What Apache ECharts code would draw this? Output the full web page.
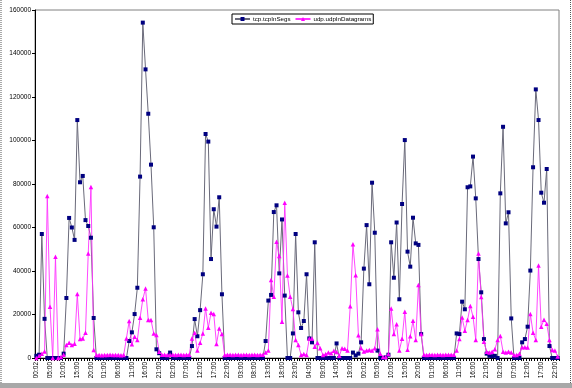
<!DOCTYPE html>
<html><head><meta charset="utf-8">
<script src="https://cdn.jsdelivr.net/npm/echarts@6/dist/echarts.min.js"></script>
<style>html,body{margin:0;padding:0;background:#fff}#c{width:572px;height:388px}</style>
</head><body><div id="c"></div>
<script>
// Tick labels / categories: hourly samples, two runs starting at 00:02
const runStartLabel = '00:02';
const runStarts = [0, 120];
const pointCount = 192;
const yTicks = [0, 20000, 40000, 60000, 80000, 100000, 120000, 140000, 160000];
const seriesNames = ['tcp.tcpInSegs', 'udp.udpInDatagrams'];

const tcpInSegs = [
  1000,1500,57000,18000,0,0,0,0,0,0,
  2000,27600,64400,60000,54300,109400,80800,83700,63400,60700,
  55300,18400,0,0,0,0,0,0,0,0,
  0,0,0,0,7800,11800,20200,32300,83400,154200,
  132700,112300,88900,60100,4000,2200,0,0,0,2500,
  0,0,0,0,0,0,0,5500,17900,10000,
  22000,38500,103000,99500,45500,68400,60400,73900,29300,0,
  0,0,0,0,0,0,0,0,0,0,
  0,0,0,0,7800,26400,29000,67100,70200,38900,
  63700,28700,0,0,11300,57000,21000,13800,17000,38500,
  9000,7200,53200,0,0,0,0,0,0,0,
  6700,0,0,0,0,0,2500,1200,2000,7200,
  41100,61100,33900,80600,57600,3400,0,0,300,1500,
  53200,36900,62300,27000,70800,100200,48900,42000,64500,52700,
  52000,11000,0,0,0,0,0,0,0,0,
  0,0,0,0,11300,11000,25900,22400,78500,78900,
  92600,73400,45500,30200,8700,2000,1000,800,1000,0,
  75700,106300,61900,67000,18200,0,0,0,7200,8700,
  14400,40200,87700,123500,109400,76000,71400,86900,5500,0,
  0,0
];
const udpInDatagrams = [
  0,1000,2000,3000,74500,23600,0,46500,0,500,
  1500,6000,7000,6000,6500,29400,8700,9000,11600,48000,
  78600,3700,1400,1400,1300,1400,1400,1500,1400,1400,
  1400,1300,1400,9000,17000,6300,9800,8300,18500,27000,
  32000,17500,17500,11300,10600,2900,1500,1500,1400,1500,
  1500,1400,1500,1500,1400,1500,1500,9000,11600,3400,
  7000,11300,22800,13900,20800,20200,6400,13600,11000,1400,
  1500,1500,1400,1500,1500,1400,1500,1500,1400,1500,
  1500,1400,1500,1500,2500,3400,35900,28200,53500,46900,
  16700,71400,37900,28200,22500,8300,6000,1400,1800,1400,
  9000,9000,5200,7000,4500,1400,1800,2500,2200,3300,
  2800,1000,4500,4200,3500,23800,52300,38000,10500,4500,
  3000,3500,3700,3500,4500,13200,2000,500,500,1800,
  22800,11000,15500,3500,8800,21300,3800,10000,17100,8300,
  33600,11000,1500,1400,1500,1500,1400,1500,1500,1400,
  1500,1500,1500,1500,3400,8700,18600,12500,17500,23900,
  19000,8300,48000,28000,7500,2900,2500,2900,4000,8300,
  10100,2900,2500,2900,2500,1400,1400,2000,4900,4900,
  4800,20200,11600,8300,42500,14400,17600,15700,8300,3700,
  3400,700
];

const categories = [];
for (let i = 0; i < pointCount; i++) {
  if (runStarts.indexOf(i) >= 0) categories.push(runStartLabel);
  else categories.push(String(i % 24).padStart(2, '0') + ':00');
}

const FONT = '"Liberation Sans", Arial, sans-serif';
const chart = echarts.init(document.getElementById('c'), null, {renderer: 'canvas'});
chart.setOption({
  animation: false,
  backgroundColor: '#ffffff',
  grid: {left: 35, right: 13, top: 10, bottom: 30, show: true, borderColor: '#808080', borderWidth: 1, backgroundColor: 'transparent'},
  legend: {
    data: seriesNames,
    left: 232, top: 14,
    orient: 'horizontal',
    borderColor: '#000', borderWidth: 1,
    padding: [2, 2, 2, 2],
    itemGap: 4, itemWidth: 15, itemHeight: 5,
    textStyle: {fontSize: 6.2, fontFamily: FONT, color: '#000', padding: [0, 0, 0, -2]}
  },
  xAxis: {
    type: 'category',
    data: categories,
    boundaryGap: true,
    axisLine: {lineStyle: {color: '#000', width: 1}},
    axisTick: {show: true, interval: 0, length: 3, lineStyle: {color: '#000'}},
    axisLabel: {interval: 4, rotate: 90, fontSize: 6.5, fontFamily: FONT, color: '#000', margin: 4},
    splitLine: {show: false}
  },
  yAxis: {
    type: 'value',
    min: yTicks[0], max: yTicks[yTicks.length - 1], interval: yTicks[1] - yTicks[0],
    axisLine: {show: true, lineStyle: {color: '#000', width: 1}},
    axisTick: {show: true, length: 3, lineStyle: {color: '#000'}},
    axisLabel: {fontSize: 6.5, fontFamily: FONT, color: '#000', margin: 4, formatter: v => String(v)},
    splitLine: {show: false}
  },
  series: [
    {
      name: seriesNames[0], type: 'line', data: tcpInSegs,
      symbol: 'rect', symbolSize: 4, showAllSymbol: true,
      lineStyle: {color: '#6a6a7a', width: 1},
      itemStyle: {color: '#000080'}
    },
    {
      name: seriesNames[1], type: 'line', data: udpInDatagrams,
      symbol: 'triangle', symbolSize: 4.5, showAllSymbol: true,
      lineStyle: {color: '#ff33ff', width: 0.9},
      itemStyle: {color: '#ff00ff'}
    }
  ],
  graphic: [
    {type: 'rect', shape: {x: 0, y: 383, width: 572, height: 5}, style: {fill: '#a8a8a8'}, silent: true},
    {type: 'line', shape: {x1: 1, y1: 0, x2: 1, y2: 383}, style: {stroke: '#555', lineWidth: 1, lineDash: [1, 1]}, silent: true},
    {type: 'line', shape: {x1: 570.5, y1: 0, x2: 570.5, y2: 383}, style: {stroke: '#555', lineWidth: 1, lineDash: [1, 1]}, silent: true}
  ]
});
</script></body></html>
